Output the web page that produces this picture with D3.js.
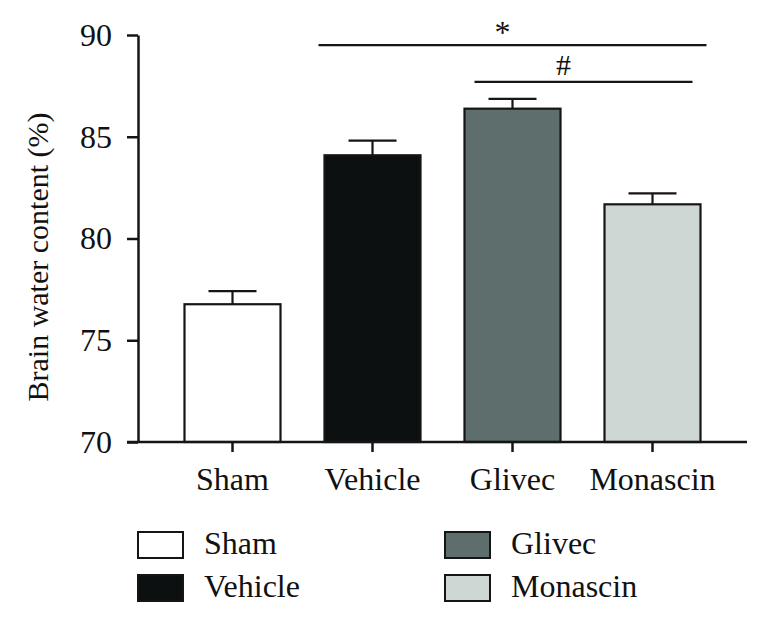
<!DOCTYPE html>
<html>
<head>
<meta charset="utf-8">
<script src="https://cdn.jsdelivr.net/npm/d3@7"></script>
<style>
  html, body { margin: 0; padding: 0; background: #ffffff; }
  svg { display: block; }
  text { font-family: "Liberation Serif", "Times New Roman", serif; fill: #111; }
</style>
</head>
<body>
<svg id="chart" width="768" height="620"></svg>
<script>
// ---- Data ----
const categories = ["Sham", "Vehicle", "Glivec", "Monascin"];
const means = [76.77, 84.09, 86.38, 81.68];
const errors = [0.64, 0.72, 0.48, 0.54];
const colors = ["#ffffff", "#0d1010", "#5e6e6c", "#cfd7d5"];
const yTicks = [70, 75, 80, 85, 90];
const sigFrom = ["Vehicle", "Glivec"];
const sigTo = ["Monascin", "Monascin"];
const sigLevel = [89.5, 87.7];
const sigLabel = ["*", "#"];
const yTitle = "Brain water content (%)";

// ---- Scales ----
const svg = d3.select("#chart");
const x = d3.scaleBand().domain(categories).range([162.5, 722.5]).padding(0);
const y = d3.scaleLinear().domain([70, 90]).range([442, 35]);
const barW = 96;
const capW = 48;
const stroke = "#151515";

// ---- Y axis ----
const yAxis = svg.append("g")
  .attr("transform", "translate(138,0)")
  .call(d3.axisLeft(y).tickValues(yTicks).tickSize(11).tickSizeOuter(0).tickPadding(15).tickFormat(d3.format("d")));
yAxis.select(".domain").attr("stroke", stroke).attr("stroke-width", 2.5);
yAxis.selectAll(".tick line").attr("stroke", stroke).attr("stroke-width", 2.5);
yAxis.selectAll(".tick text").attr("font-size", 32).attr("font-family", "Liberation Serif").attr("fill", "#111");

// ---- Bars ----
const data = categories.map((c, i) => ({ c, m: means[i], e: errors[i], col: colors[i] }));
const bars = svg.append("g");
bars.selectAll("rect").data(data).join("rect")
  .attr("x", d => x(d.c) + x.bandwidth() / 2 - barW / 2)
  .attr("y", d => y(d.m))
  .attr("width", barW)
  .attr("height", d => y(70) - y(d.m))
  .attr("fill", d => d.col)
  .attr("stroke", stroke)
  .attr("stroke-width", 2.2);

// error bars
const eb = svg.append("g").attr("stroke", stroke).attr("stroke-width", 2.2);
eb.selectAll("line.v").data(data).join("line").attr("class", "v")
  .attr("x1", d => x(d.c) + x.bandwidth() / 2)
  .attr("x2", d => x(d.c) + x.bandwidth() / 2)
  .attr("y1", d => y(d.m))
  .attr("y2", d => y(d.m + d.e));
eb.selectAll("line.cap").data(data).join("line").attr("class", "cap")
  .attr("x1", d => x(d.c) + x.bandwidth() / 2 - capW / 2)
  .attr("x2", d => x(d.c) + x.bandwidth() / 2 + capW / 2)
  .attr("y1", d => y(d.m + d.e))
  .attr("y2", d => y(d.m + d.e));

// ---- X axis ----
const xAxis = svg.append("g")
  .attr("transform", "translate(0," + y(70) + ")")
  .call(d3.axisBottom(x).tickSize(10).tickSizeOuter(0).tickPadding(15));
xAxis.select(".domain").remove();
xAxis.append("line")
  .attr("x1", 127).attr("x2", 747).attr("y1", 0).attr("y2", 0)
  .attr("stroke", stroke).attr("stroke-width", 2.5);
xAxis.selectAll(".tick line").attr("stroke", stroke).attr("stroke-width", 2.5);
xAxis.selectAll(".tick text").attr("font-size", 32).attr("font-family", "Liberation Serif").attr("fill", "#111");

// ---- Y title ----
svg.append("text")
  .attr("transform", "rotate(-90)")
  .attr("x", -257)
  .attr("y", 48)
  .attr("text-anchor", "middle")
  .attr("font-size", 30)
  .text(yTitle);

// ---- Significance ----
const sigOffL = [54, 38];
const sigOffR = [54, 40];
const sigTextDx = [-10, -20];
const sigFont = [32, 30];
const sigTextDy = [-2, -7];
sigLabel.forEach((lab, i) => {
  const x1 = x(sigFrom[i]) + x.bandwidth() / 2 - sigOffL[i];
  const x2 = x(sigTo[i]) + x.bandwidth() / 2 + sigOffR[i];
  const yy = y(sigLevel[i]);
  svg.append("line")
    .attr("x1", x1).attr("x2", x2).attr("y1", yy).attr("y2", yy)
    .attr("stroke", stroke).attr("stroke-width", 2.2);
  svg.append("text")
    .attr("x", (x1 + x2) / 2 + sigTextDx[i])
    .attr("y", yy + sigTextDy[i])
    .attr("text-anchor", "middle")
    .attr("font-size", sigFont[i])
    .text(lab);
});

// ---- Legend ----
const legX = [138, 445];
const legY = [532, 575];
const legend = svg.append("g");
data.forEach((d, i) => {
  const col = i < 2 ? 0 : 1;
  const row = i % 2;
  legend.append("rect")
    .attr("x", legX[col]).attr("y", legY[row])
    .attr("width", 45).attr("height", 26)
    .attr("fill", d.col).attr("stroke", stroke).attr("stroke-width", 2);
  legend.append("text")
    .attr("x", legX[col] + 66).attr("y", legY[row] + 22)
    .attr("font-size", 32)
    .text(d.c);
});
</script>
</body>
</html>
